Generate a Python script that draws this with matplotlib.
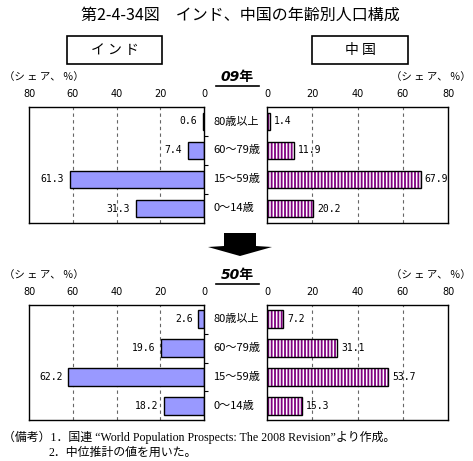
import matplotlib
matplotlib.use("Agg")
import matplotlib.pyplot as plt
from matplotlib.patches import Rectangle, Polygon
from matplotlib.lines import Line2D
from matplotlib.transforms import blended_transform_factory

plt.rcParams['font.family'] = ['Noto Sans CJK JP', 'DejaVu Sans']
plt.rcParams['hatch.linewidth'] = 1.3

# data (share, %)
categories = ["80歳以上", "60～79歳", "15～59歳", "0～14歳"]
india_09 = [0.6, 7.4, 61.3, 31.3]
china_09 = [1.4, 11.9, 67.9, 20.2]
india_50 = [2.6, 19.6, 62.2, 18.2]
china_50 = [7.2, 31.1, 53.7, 15.3]
x_ticks = [0, 20, 40, 60, 80]

W, H = 473, 461
india_color = '#9999ff'
china_color = '#800080'


def px_box(x0, y0, x1, y1):
    # pixel box (top-left origin) -> figure fraction rect
    return [x0 / W, (H - y1) / H, (x1 - x0) / W, (y1 - y0) / H]


def fx(x):
    return x / W


def fy(y):
    return 1 - y / H


fig = plt.figure(figsize=(W / 100, H / 100), dpi=100)


def setup_axis(ax, left_side):
    ax.set_xlim(80, 0) if left_side else ax.set_xlim(0, 80)
    ax.set_ylim(3.5, -0.5)
    ax.set_xticks(x_ticks)
    ax.xaxis.tick_top()
    ax.tick_params(axis='x', length=0, pad=6, labelsize=7)
    for lbl in ax.get_xticklabels():
        lbl.set_family('DejaVu Sans')
    for x in (20, 40, 60):
        ax.axvline(x, color='#666666', linestyle=(0, (3, 3)), linewidth=0.8, zorder=0)
    for s in ax.spines.values():
        s.set_linewidth(1.0)
    if left_side:
        ax.yaxis.tick_right()
        ax.set_yticks([0.5, 1.5, 2.5])
        ax.tick_params(axis='y', length=3, direction='out', labelright=False)
    else:
        ax.set_yticks([])


def draw_india(ax, vals):
    y = range(len(vals))
    ax.barh(y, vals, 0.62, color=india_color, edgecolor='black', linewidth=1.0, zorder=2)
    for i, v in enumerate(vals):
        ax.annotate("%.1f" % v, (v, i), xytext=(-4, 0), textcoords='offset points',
                    ha='right', va='center', fontsize=7, family='DejaVu Sans Mono')


def draw_china(ax, vals):
    y = range(len(vals))
    ax.barh(y, vals, 0.62, color='white', edgecolor=china_color, hatch='|||||',
            linewidth=0, zorder=2)
    ax.barh(y, vals, 0.62, fill=False, edgecolor='black', linewidth=1.0, zorder=3)
    for i, v in enumerate(vals):
        ax.annotate("%.1f" % v, (v, i), xytext=(3, 0), textcoords='offset points',
                    ha='left', va='center', fontsize=7, family='DejaVu Sans Mono')


def section(top, bottom, india, china, year_label, label_y):
    ax_l = fig.add_axes(px_box(29, top, 204, bottom))
    ax_r = fig.add_axes(px_box(267, top, 448, bottom))
    setup_axis(ax_l, True)
    setup_axis(ax_r, False)
    draw_india(ax_l, india)
    draw_china(ax_r, china)

    # age labels between the two panels
    tr = blended_transform_factory(fig.transFigure, ax_l.transData)
    for i, c in enumerate(categories):
        ax_l.text(fx(213), i, c, transform=tr, ha='left', va='center', fontsize=8)

    share = "（シ ェ ア、 ％）"
    fig.text(fx(4), fy(label_y), share, ha='left', va='center', fontsize=7.5)
    fig.text(fx(471), fy(label_y), share, ha='right', va='center', fontsize=7.5)
    fig.text(fx(237), fy(label_y), year_label, ha='center', va='center', fontsize=10,
             weight='bold', style='italic', family=['DejaVu Sans', 'Noto Sans CJK JP'])
    fig.add_artist(Line2D([fx(216), fx(259)], [fy(label_y + 9), fy(label_y + 9)],
                          color='black', linewidth=1.2))


fig.text(fx(240), fy(15), "第2-4-34図　インド、中国の年齢別人口構成",
         ha='center', va='center', fontsize=11.5)

# country name boxes
for x0, x1, name in [(67, 162, "イ ン ド"), (312, 408, "中 国")]:
    fig.add_artist(Rectangle((fx(x0), fy(64)), fx(x1) - fx(x0), fy(36) - fy(64),
                             transform=fig.transFigure, fill=False,
                             edgecolor='black', linewidth=1.2))
    fig.text((fx(x0) + fx(x1)) / 2, fy(50), name, ha='center', va='center', fontsize=10)

section(107, 223, india_09, china_09, "09年", 77)

# down arrow between the two years
arrow_px = [(224, 233), (256, 233), (256, 246), (272, 247), (240, 256),
            (208, 247), (224, 246)]
fig.add_artist(Polygon([(fx(x), fy(y)) for x, y in arrow_px], closed=True,
                       transform=fig.transFigure, facecolor='black', edgecolor='none'))

section(305, 420, india_50, china_50, "50年", 275)

note_font = ['Liberation Serif', 'Noto Sans CJK JP']
fig.text(fx(3), fy(437), "（備考）1．国連 “World Population Prospects: The 2008 Revision”より作成。",
         ha='left', va='center', fontsize=8.6, family=note_font)
fig.text(fx(48), fy(453), "2．中位推計の値を用いた。",
         ha='left', va='center', fontsize=8.6, family=note_font)

fig.savefig("out.png", dpi=100)
